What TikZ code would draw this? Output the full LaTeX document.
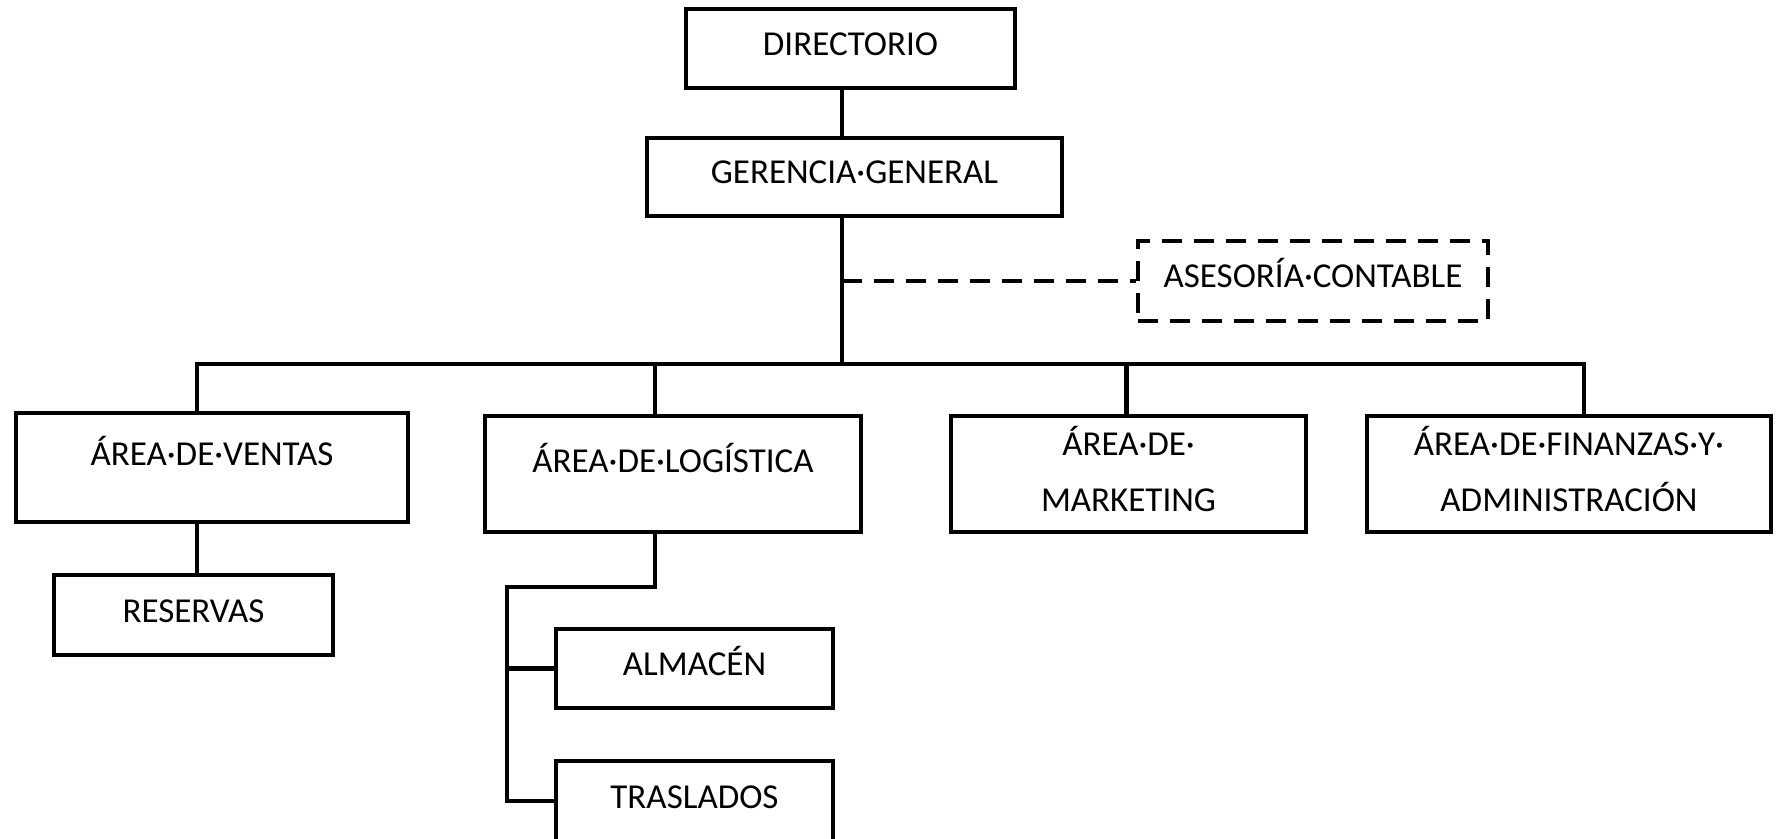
\documentclass[tikz,border=0pt]{standalone}
\usepackage{fontspec}
\setmainfont{Carlito}
\usetikzlibrary{positioning}

\begin{document}
\begin{tikzpicture}[x=0.5pt, y=-0.5pt,
  box/.style={draw, line width=2.4pt, align=center, inner sep=0pt, text height=11pt, text depth=4pt, font=\fontsize{17.5}{28}\selectfont},
  dbox/.style={box, dash pattern=on 10pt off 6pt},
  link/.style={line width=2.2pt},
  dlink/.style={link, dash pattern=on 10pt off 6pt}
]
  \useasboundingbox (0,0) rectangle (1776,839);

  % Top: board and management
  \node[box, minimum width=164.5pt, minimum height=39.5pt] (dir) at (850.5,48.5) {DIRECTORIO};
  \node[box, minimum width=207.5pt, minimum height=39pt] (ger) at (854.5,177) {GERENCIA·GENERAL};

  % Advisory (dashed)
  \node[dbox, minimum width=175pt, minimum height=40pt] (ases) at (1313,281) {ASESORÍA·CONTABLE};

  % Areas
  \node[box, minimum width=196pt, minimum height=54.5pt, text depth=13pt] (ventas) at (212,467.5) {ÁREA·DE·VENTAS};
  \node[box, minimum width=188pt, minimum height=58pt, text depth=13pt] (logis) at (673,474) {ÁREA·DE·LOGÍSTICA};
  \node[box, minimum width=177.5pt, minimum height=58pt, text height=39pt, text depth=2pt] (mkt) at (1128.5,474) {ÁREA·DE·\\MARKETING};
  \node[box, minimum width=202pt, minimum height=58pt, text height=39pt, text depth=2pt] (fin) at (1569,474) {ÁREA·DE·FINANZAS·Y·\\ADMINISTRACIÓN};

  % Sub-units
  \node[box, minimum width=139.5pt, minimum height=40pt] (res) at (193.5,615) {RESERVAS};
  \node[box, minimum width=138.5pt, minimum height=39.5pt] (alm) at (694.5,668.5) {ALMACÉN};
  \node[box, minimum width=138.5pt, minimum height=40pt] (tras) at (694.5,801) {TRASLADOS};

  % Trunk and bus
  \coordinate (trunk) at (842,364);
  \coordinate (lk) at (507,587);
  \draw[link] (dir.south -| trunk) -- (ger.north -| trunk);
  \draw[link] (ger.south -| trunk) -- (trunk);
  \draw[dlink] (ases.west -| trunk) -- (ases.west);
  \draw[link] ([xshift=-7.5pt]ventas.north) |- (trunk) -| ([xshift=7.5pt]fin.north);
  \draw[link] ([xshift=-9pt]logis.north) -- ([xshift=-9pt]logis.north |- trunk);
  \draw[link] ([xshift=-1pt]mkt.north) -- ([xshift=-1pt]mkt.north |- trunk);

  % Branches below
  \draw[link] ([xshift=-7.5pt]ventas.south) -- ([xshift=-7.5pt]ventas.south |- res.north);
  \draw[link] ([xshift=-9pt]logis.south) |- (lk) |- (alm.west);
  \draw[link] (lk) |- (tras.west);
\end{tikzpicture}
\end{document}
